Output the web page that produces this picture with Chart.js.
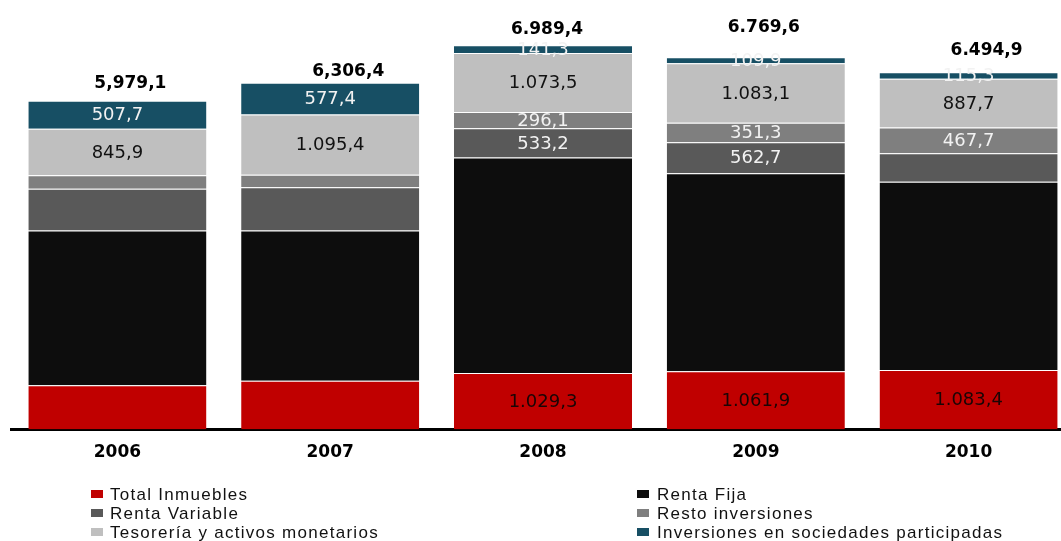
<!DOCTYPE html>
<html>
<head>
<meta charset="utf-8">
<script src="https://cdn.jsdelivr.net/npm/chart.js@4.4.1/dist/chart.umd.min.js"></script>
<style>
  html, body { margin: 0; padding: 0; background: #fff; }
  #frame { position: relative; width: 1061px; height: 541px; overflow: hidden; }
  #chart { position: absolute; left: 0; top: 0; }
  .leg {
    position: absolute;
    font-family: "Liberation Sans", Arial, sans-serif;
    font-size: 17px;
    line-height: 19px;
    letter-spacing: 1.28px;
    color: #111;
    white-space: nowrap;
  }
  .leg i { position: absolute; left: 0; top: 5px; width: 12px; height: 8px; }
</style>
</head>
<body>
<div id="frame">
  <canvas id="chart" width="1076" height="541"></canvas>
  <div id="legend"></div>
</div>
<script>
// DATA
const years = ["2006", "2007", "2008", "2009", "2010"];

const inmuebles = [808, 889, 1029.3, 1061.9, 1083.4];
const rentaFija = [2809.5, 2728.6, 3916.0, 3600.7, 3422.8];
const rentaVariable = [760, 790, 533.2, 562.7, 518];
const restoInversiones = [248, 226, 296.1, 351.3, 467.7];
const tesoreria = [845.9, 1095.4, 1073.5, 1083.1, 887.7];
const participadas = [507.7, 577.4, 141.3, 109.9, 115.3];

// labels printed inside the segments (null = not shown)
const inmueblesLabels = [null, null, "1.029,3", "1.061,9", "1.083,4"];
const rentaFijaLabels = [null, null, null, null, null];
const rentaVariableLabels = [null, null, "533,2", "562,7", null];
const restoLabels = [null, null, "296,1", "351,3", "467,7"];
const tesoreriaLabels = ["845,9", "1.095,4", "1.073,5", "1.083,1", "887,7"];
const participadasLabels = ["507,7", "577,4", "141,3", "109,9", "115,3"];

// totals printed above each bar
const totalLabels = ["5,979,1", "6,306,4", "6.989,4", "6.769,6", "6.494,9"];

// small nudges of the total labels (x, y above bar top)
const totalDx = [13, 18, 4, 8, 18];
const totalDy = [17, 11, 16, 30, 22];

const sep = "rgba(255,255,255,0.15)";

function makeSet(label, data, color, valueLabels, labelColor) {
  return {
    label: label,
    data: data,
    backgroundColor: color,
    borderColor: sep,
    borderWidth: { top: 1, left: 0, right: 0, bottom: 0 },
    borderSkipped: false,
    valueLabels: valueLabels,
    labelColor: labelColor,
  };
}

const datasets = [
  makeSet("Total Inmuebles", inmuebles, "#C00000", inmueblesLabels, "#1a0505"),
  makeSet("Renta Fija", rentaFija, "#0D0D0D", rentaFijaLabels, "#fff"),
  makeSet("Renta Variable", rentaVariable, "#595959", rentaVariableLabels, "#f2f2f2"),
  makeSet("Resto inversiones", restoInversiones, "#7F7F7F", restoLabels, "#f2f2f2"),
  makeSet("Tesorería y activos monetarios", tesoreria, "#BFBFBF", tesoreriaLabels, "#111"),
  makeSet("Inversiones en sociedades participadas", participadas, "#174F64", participadasLabels, "#f2f2f2"),
];

// DRAW LABELS INSIDE SEGMENTS AND TOTALS ON TOP
const valueLabelPlugin = {
  id: "valueLabels",
  afterDatasetsDraw(chart) {
    const ctx = chart.ctx;
    ctx.save();
    ctx.textAlign = "center";
    ctx.textBaseline = "middle";
    ctx.font = "18px 'DejaVu Sans'";
    chart.data.datasets.forEach((ds, i) => {
      const meta = chart.getDatasetMeta(i);
      meta.data.forEach((bar, j) => {
        const txt = ds.valueLabels[j];
        if (!txt) return;
        const p = bar.getProps(["x", "y", "base"], true);
        ctx.fillStyle = ds.labelColor;
        ctx.fillText(txt, p.x, (p.y + p.base) / 2 + 1);
      });
    });

    ctx.font = "bold 17px 'DejaVu Sans'";
    ctx.fillStyle = "#000";
    const yScale = chart.scales.y;
    const firstMeta = chart.getDatasetMeta(0);
    years.forEach((y, j) => {
      let sum = 0;
      chart.data.datasets.forEach((ds) => (sum += ds.data[j]));
      const top = yScale.getPixelForValue(sum);
      const x = firstMeta.data[j].x;
      ctx.fillText(totalLabels[j], x + totalDx[j], top - totalDy[j]);
    });
    ctx.restore();
  },
};

new Chart(document.getElementById("chart"), {
  type: "bar",
  data: { labels: years, datasets: datasets },
  options: {
    responsive: false,
    animation: false,
    layout: { padding: { left: 11, right: 1, top: 0, bottom: 65 } },
    plugins: {
      legend: { display: false },
      tooltip: { enabled: false },
    },
    datasets: {
      bar: { categoryPercentage: 1, barPercentage: 0.837 },
    },
    scales: {
      x: {
        stacked: true,
        grid: { display: false, drawTicks: false },
        border: { display: true, color: "#000", width: 3 },
        ticks: {
          color: "#000",
          padding: 13,
          font: { family: "DejaVu Sans", size: 17, weight: "bold" },
        },
      },
      y: {
        stacked: true,
        display: false,
        min: 0,
        max: 7810,
      },
    },
  },
  plugins: [valueLabelPlugin],
});

// HTML LEGEND, two columns
const legend = document.getElementById("legend");
const colX = [91, 637];
const textX = [19, 20];
const rowTop = [485, 504, 523];
datasets.forEach((ds, i) => {
  const col = i % 2;
  const row = Math.floor(i / 2);
  const item = document.createElement("div");
  item.className = "leg";
  item.style.left = colX[col] + "px";
  item.style.top = rowTop[row] + "px";
  item.style.paddingLeft = textX[col] + "px";
  item.innerHTML = '<i style="background:' + ds.backgroundColor + '"></i>' + ds.label;
  legend.appendChild(item);
});
</script>
</body>
</html>
